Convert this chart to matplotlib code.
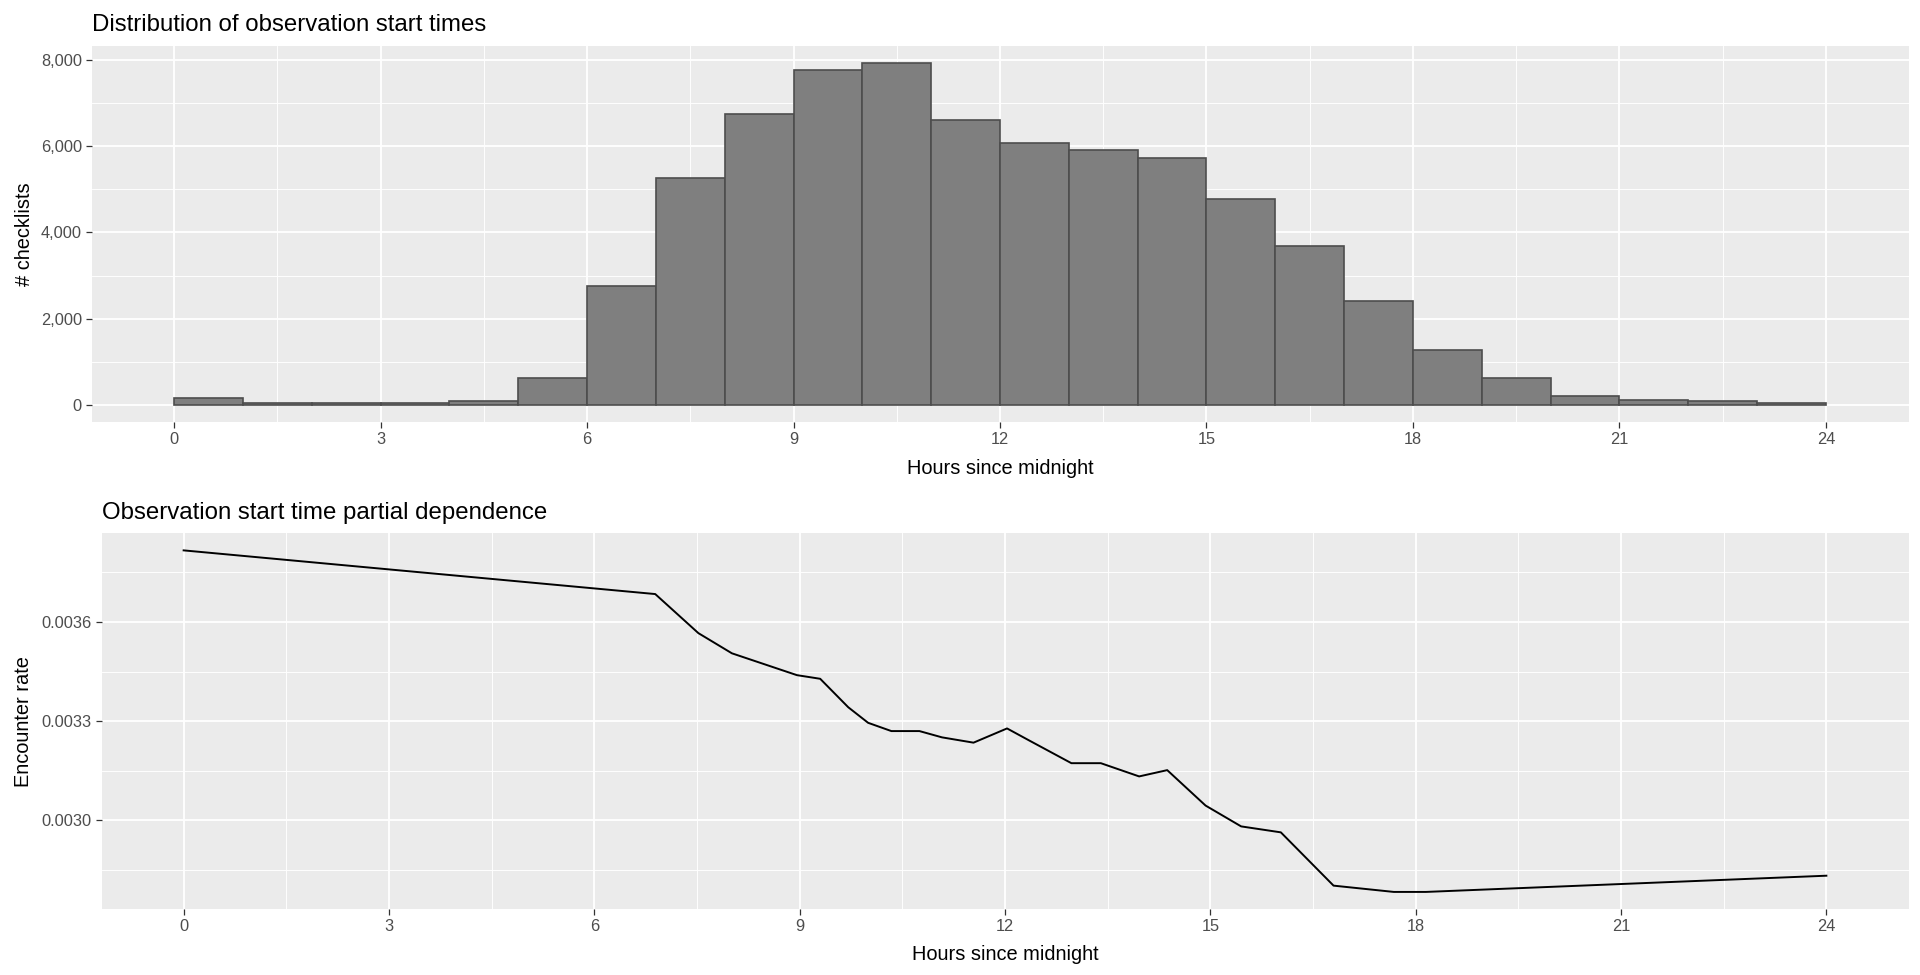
import matplotlib.pyplot as plt
from matplotlib.ticker import FuncFormatter, MultipleLocator, FixedLocator

# histogram of start times (1-hour bins from 0 to 24)
bin_starts = list(range(24))
checklists = [170, 45, 40, 45, 80, 634, 2767, 5264, 6748, 7768, 7937, 6609,
              6075, 5920, 5727, 4777, 3687, 2412, 1283, 634, 216, 123, 93, 45]

# partial dependence curve
pd_hours = [0, 6.89, 7.52, 8.01, 8.96, 9.30, 9.71, 10.00, 10.34, 10.75, 11.08,
            11.54, 12.03, 12.35, 12.97, 13.40, 13.96, 14.37, 14.93, 15.45,
            16.03, 16.80, 17.68, 18.15, 24.0]
pd_rate = [0.003816, 0.003684, 0.003566, 0.003505, 0.003439, 0.003428,
           0.003342, 0.003295, 0.003270, 0.003270, 0.003251, 0.003235,
           0.003278, 0.003242, 0.003173, 0.003173, 0.003133, 0.003152,
           0.003045, 0.002982, 0.002964, 0.002803, 0.002784, 0.002784,
           0.002833]

x_breaks = [0, 3, 6, 9, 12, 15, 18, 21, 24]

plt.rcParams["font.family"] = ["Liberation Sans", "DejaVu Sans"]

W, H = 1920, 975
fig = plt.figure(figsize=(W / 100, H / 100), dpi=100)


def px_axes(left, top, right, bottom):
    return fig.add_axes([left / W, 1 - bottom / H, (right - left) / W, (bottom - top) / H])


def gg_style(ax, ylabel, ylab_x):
    ax.set_facecolor("#EBEBEB")
    for s in ax.spines.values():
        s.set_visible(False)
    ax.set_axisbelow(True)
    ax.grid(which="major", color="white", linewidth=1.3)
    ax.grid(which="minor", color="white", linewidth=0.65)
    ax.tick_params(which="major", length=4, width=0.9, color="#333333",
                   labelcolor="#4D4D4D", labelsize=11.8, pad=3)
    ax.tick_params(which="minor", length=0)
    ax.xaxis.set_major_locator(FixedLocator(x_breaks))
    ax.xaxis.set_minor_locator(FixedLocator([b + 1.5 for b in x_breaks[:-1]]))
    ax.set_xlim(-1.2, 25.2)
    ax.set_xlabel("Hours since midnight", fontsize=14.4, color="black")
    ax.xaxis.label.set_va("baseline")
    ax.xaxis.set_label_coords(0.5, -0.137)
    ax.set_ylabel(ylabel, fontsize=14.4, color="black")
    ax.yaxis.label.set_va("baseline")
    ax.yaxis.set_label_coords(ylab_x, 0.5)


# top: histogram
ax1 = px_axes(91.5, 45.7, 1908.5, 422)
ax1.bar(bin_starts, checklists, width=1, align="edge",
        color="#7F7F7F", edgecolor="#4D4D4D", linewidth=1.2)
top = max(checklists)
ax1.set_ylim(-0.05 * top, 1.05 * top)
ax1.yaxis.set_major_locator(MultipleLocator(2000))
ax1.yaxis.set_minor_locator(FixedLocator([1000, 3000, 5000, 7000]))
ax1.yaxis.set_major_formatter(FuncFormatter(lambda v, p: f"{int(v):,}"))
gg_style(ax1, "# checklists", (30 - 91.5) / 1817)
ax1.set_title("Distribution of observation start times", loc="left",
              fontsize=17.3, pad=10.5)

# bottom: partial dependence
ax2 = px_axes(101.5, 533.3, 1908.5, 909)
ax2.plot(pd_hours, pd_rate, color="black", linewidth=1.4)
lo, hi = min(pd_rate), max(pd_rate)
ax2.set_ylim(lo - 0.05 * (hi - lo), hi + 0.05 * (hi - lo))
ax2.yaxis.set_major_locator(FixedLocator([0.0030, 0.0033, 0.0036]))
ax2.yaxis.set_minor_locator(FixedLocator([0.00285, 0.00315, 0.00345, 0.00375]))
ax2.yaxis.set_major_formatter(FuncFormatter(lambda v, p: f"{v:.4f}"))
gg_style(ax2, "Encounter rate", (29 - 101.5) / 1807)
ax2.set_title("Observation start time partial dependence", loc="left",
              fontsize=17.3, pad=10.5)

fig.savefig("out.png", dpi=100, facecolor="white")
